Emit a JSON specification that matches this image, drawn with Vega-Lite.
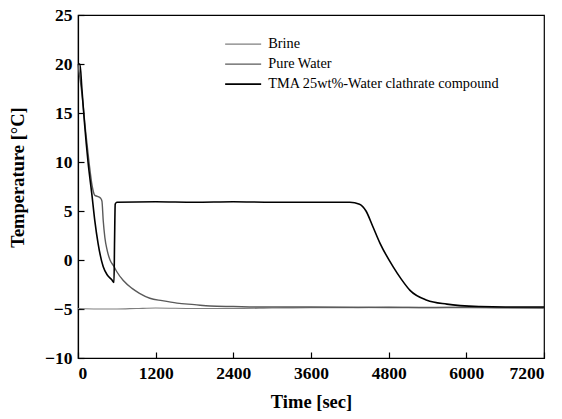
{
  "$schema": "https://vega.github.io/schema/vega-lite/v6.json",
  "width": 466,
  "height": 343,
  "autosize": {"type": "none"},
  "padding": {"left": 78, "top": 15, "right": 18, "bottom": 61},
  "background": "white",
  "config": {
    "view": {"stroke": "black", "strokeWidth": 1.2},
    "font": "Liberation Serif",
    "axis": {"grid": false, "domainColor": "black", "tickColor": "black", "labelColor": "black", "titleColor": "black", "labelFont": "Liberation Serif", "titleFont": "Liberation Serif", "labelFontWeight": "bold", "titleFontWeight": "bold", "labelFontSize": 17.5, "titleFontSize": 18.5, "tickSize": -6, "domainWidth": 1.2, "tickWidth": 1.2}
  },
  "data": {"values": [
    {"t": 0, "T": -4.95, "s": "Brine"},
    {"t": 300, "T": -5.0, "s": "Brine"},
    {"t": 600, "T": -5.0, "s": "Brine"},
    {"t": 900, "T": -4.95, "s": "Brine"},
    {"t": 1200, "T": -4.9, "s": "Brine"},
    {"t": 1800, "T": -4.95, "s": "Brine"},
    {"t": 2400, "T": -4.95, "s": "Brine"},
    {"t": 3000, "T": -4.9, "s": "Brine"},
    {"t": 3600, "T": -4.85, "s": "Brine"},
    {"t": 4200, "T": -4.85, "s": "Brine"},
    {"t": 4800, "T": -4.8, "s": "Brine"},
    {"t": 5400, "T": -4.85, "s": "Brine"},
    {"t": 6000, "T": -4.8, "s": "Brine"},
    {"t": 6600, "T": -4.85, "s": "Brine"},
    {"t": 7200, "T": -4.85, "s": "Brine"},
    {"t": 0, "T": 20, "s": "Pure Water"},
    {"t": 60, "T": 17, "s": "Pure Water"},
    {"t": 120, "T": 13, "s": "Pure Water"},
    {"t": 170, "T": 10, "s": "Pure Water"},
    {"t": 220, "T": 7.5, "s": "Pure Water"},
    {"t": 260, "T": 6.6, "s": "Pure Water"},
    {"t": 300, "T": 6.5, "s": "Pure Water"},
    {"t": 350, "T": 6.3, "s": "Pure Water"},
    {"t": 370, "T": 6.0, "s": "Pure Water"},
    {"t": 390, "T": 4.0, "s": "Pure Water"},
    {"t": 415, "T": 2.3, "s": "Pure Water"},
    {"t": 450, "T": 1.0, "s": "Pure Water"},
    {"t": 495, "T": 0, "s": "Pure Water"},
    {"t": 550, "T": -0.6, "s": "Pure Water"},
    {"t": 600, "T": -1.2, "s": "Pure Water"},
    {"t": 700, "T": -2.1, "s": "Pure Water"},
    {"t": 835, "T": -2.9, "s": "Pure Water"},
    {"t": 950, "T": -3.4, "s": "Pure Water"},
    {"t": 1110, "T": -3.9, "s": "Pure Water"},
    {"t": 1300, "T": -4.15, "s": "Pure Water"},
    {"t": 1530, "T": -4.4, "s": "Pure Water"},
    {"t": 1800, "T": -4.55, "s": "Pure Water"},
    {"t": 2040, "T": -4.7, "s": "Pure Water"},
    {"t": 2400, "T": -4.75, "s": "Pure Water"},
    {"t": 2810, "T": -4.8, "s": "Pure Water"},
    {"t": 3600, "T": -4.8, "s": "Pure Water"},
    {"t": 4800, "T": -4.85, "s": "Pure Water"},
    {"t": 6000, "T": -4.85, "s": "Pure Water"},
    {"t": 7200, "T": -4.9, "s": "Pure Water"},
    {"t": 0, "T": 20, "s": "TMA 25wt%-Water clathrate compound"},
    {"t": 30, "T": 20, "s": "TMA 25wt%-Water clathrate compound"},
    {"t": 60, "T": 17.5, "s": "TMA 25wt%-Water clathrate compound"},
    {"t": 100, "T": 14, "s": "TMA 25wt%-Water clathrate compound"},
    {"t": 155, "T": 10, "s": "TMA 25wt%-Water clathrate compound"},
    {"t": 216, "T": 6.6, "s": "TMA 25wt%-Water clathrate compound"},
    {"t": 260, "T": 4.0, "s": "TMA 25wt%-Water clathrate compound"},
    {"t": 310, "T": 1.7, "s": "TMA 25wt%-Water clathrate compound"},
    {"t": 390, "T": -0.7, "s": "TMA 25wt%-Water clathrate compound"},
    {"t": 450, "T": -1.5, "s": "TMA 25wt%-Water clathrate compound"},
    {"t": 520, "T": -2.0, "s": "TMA 25wt%-Water clathrate compound"},
    {"t": 556, "T": -2.3, "s": "TMA 25wt%-Water clathrate compound"},
    {"t": 565, "T": 2.0, "s": "TMA 25wt%-Water clathrate compound"},
    {"t": 575, "T": 5.7, "s": "TMA 25wt%-Water clathrate compound"},
    {"t": 600, "T": 5.9, "s": "TMA 25wt%-Water clathrate compound"},
    {"t": 1200, "T": 5.95, "s": "TMA 25wt%-Water clathrate compound"},
    {"t": 1800, "T": 5.9, "s": "TMA 25wt%-Water clathrate compound"},
    {"t": 2400, "T": 5.95, "s": "TMA 25wt%-Water clathrate compound"},
    {"t": 3000, "T": 5.9, "s": "TMA 25wt%-Water clathrate compound"},
    {"t": 3600, "T": 5.9, "s": "TMA 25wt%-Water clathrate compound"},
    {"t": 4200, "T": 5.9, "s": "TMA 25wt%-Water clathrate compound"},
    {"t": 4350, "T": 5.7, "s": "TMA 25wt%-Water clathrate compound"},
    {"t": 4450, "T": 5.0, "s": "TMA 25wt%-Water clathrate compound"},
    {"t": 4550, "T": 3.5, "s": "TMA 25wt%-Water clathrate compound"},
    {"t": 4667, "T": 1.7, "s": "TMA 25wt%-Water clathrate compound"},
    {"t": 4870, "T": -0.7, "s": "TMA 25wt%-Water clathrate compound"},
    {"t": 5000, "T": -2.0, "s": "TMA 25wt%-Water clathrate compound"},
    {"t": 5130, "T": -3.1, "s": "TMA 25wt%-Water clathrate compound"},
    {"t": 5390, "T": -4.1, "s": "TMA 25wt%-Water clathrate compound"},
    {"t": 5700, "T": -4.5, "s": "TMA 25wt%-Water clathrate compound"},
    {"t": 6210, "T": -4.75, "s": "TMA 25wt%-Water clathrate compound"},
    {"t": 6600, "T": -4.8, "s": "TMA 25wt%-Water clathrate compound"},
    {"t": 7200, "T": -4.8, "s": "TMA 25wt%-Water clathrate compound"}
  ]},
  "mark": {"type": "line", "interpolate": "monotone"},
  "encoding": {
    "x": {"field": "t", "type": "quantitative", "scale": {"domain": [0, 7200], "nice": false}, "axis": {"values": [0, 1200, 2400, 3600, 4800, 6000, 7200], "format": "d", "title": "Time [sec]", "labelFontWeight": "bold", "labelPadding": 12, "titlePadding": 11}},
    "y": {"field": "T", "type": "quantitative", "scale": {"domain": [-10, 25], "nice": false}, "axis": {"values": [-10, -5, 0, 5, 10, 15, 20, 25], "format": "d", "title": "Temperature [°C]", "labelFontWeight": "bold", "labelPadding": 12, "titlePadding": 17, "titleY": 162}},
    "color": {"field": "s", "type": "nominal", "scale": {"domain": ["Brine", "Pure Water", "TMA 25wt%-Water clathrate compound"], "range": ["#7f7f7f", "#5a5a5a", "#000000"]},
      "legend": {"title": null, "orient": "none", "legendX": 158, "legendY": 22, "symbolType": "M-3.6,0H3.6", "symbolSize": 100, "labelFont": "Liberation Serif", "labelFontSize": 14.3, "labelColor": "black", "labelLimit": 0, "rowPadding": 5, "labelOffset": 18}},
    "strokeWidth": {"field": "s", "type": "nominal", "scale": {"domain": ["Brine", "Pure Water", "TMA 25wt%-Water clathrate compound"], "range": [1.2, 1.6, 3]}, "legend": null}
  }
}
